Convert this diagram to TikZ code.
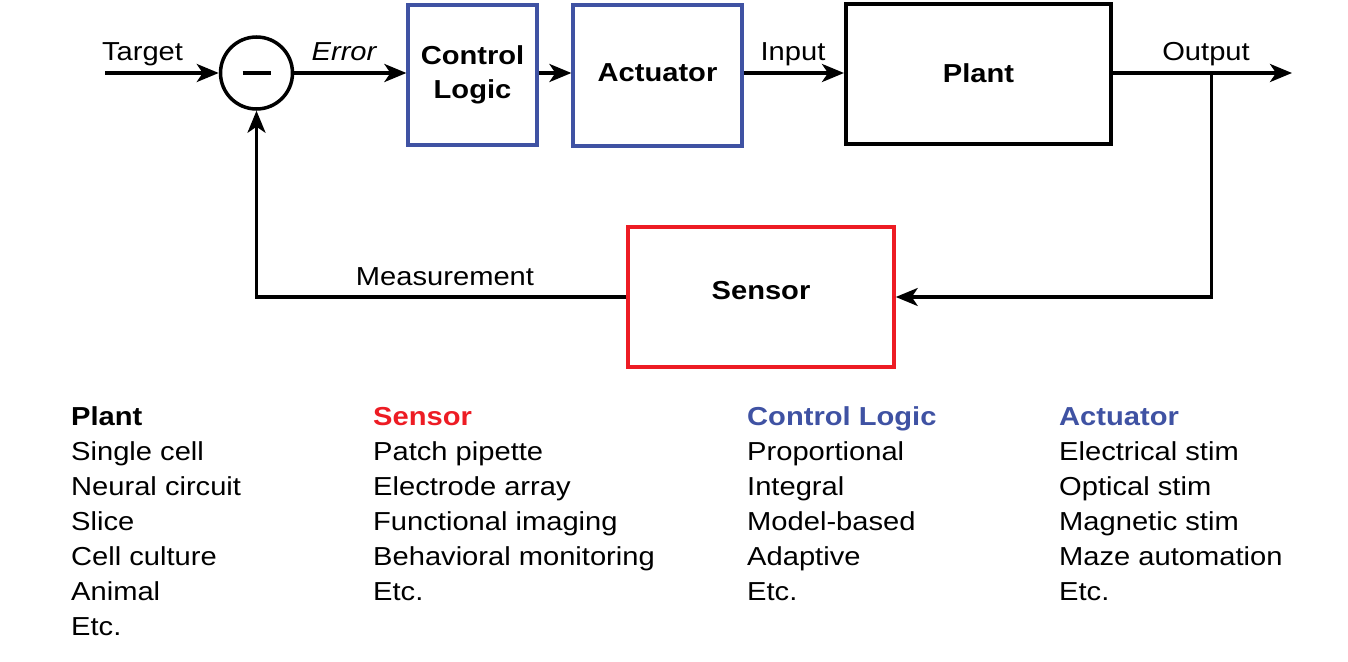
\documentclass[tikz,border=0pt]{standalone}
\usepackage{fontspec}
\setmainfont{Liberation Sans}[FakeStretch=1.12]
\usetikzlibrary{arrows.meta}
\definecolor{cblue}{RGB}{63,82,163}
\definecolor{cred}{RGB}{237,28,36}
\begin{document}
\begin{tikzpicture}[x=1pt,y=-1pt,
  every node/.style={inner sep=0pt, font=\fontsize{26}{35}\selectfont},
  arr/.style={line width=3.5pt, -{Stealth[length=22pt,width=18pt,inset=6pt]}},
  fb/.style={line width=3.2pt, -{Stealth[length=22pt,width=18pt,inset=6pt]}},
  blk/.style={draw, line width=3.2pt, align=center, font=\fontsize{26}{34}\selectfont\bfseries},
  lbl/.style={anchor=base},
  item/.style={anchor=base west},
  head/.style={anchor=base west, font=\fontsize{26}{35}\selectfont\bfseries}]
\useasboundingbox (0,0) rectangle (1348,661);

% blocks
\node[circle, draw, line width=3.5pt, minimum size=72pt] (sum) at (256.5,73) {};
\draw[line width=4pt] ([xshift=-14pt]sum.center) -- ([xshift=14pt]sum.center);
\node[blk, draw=cblue, minimum width=129pt, minimum height=140pt] (cl) at (472.5,75) {Control\\Logic};
\node[blk, draw=cblue, minimum width=169pt, minimum height=141pt, text depth=6pt] (act) at (657.5,75.5) {Actuator};
\node[blk, line width=4pt, minimum width=265pt, minimum height=140pt, text depth=2pt] (plant) at (978.5,74) {Plant};
\node[blk, draw=cred, line width=3.5pt, minimum width=266pt, minimum height=140pt, text depth=14pt] (sen) at (761,297) {Sensor};

% coordinates
\coordinate (tgt) at (105,73);
\coordinate (out) at (1292,73);
\coordinate (tap) at (1211.5,73);

% connectors
\draw[arr] (tgt) -- (sum.west);
\draw[arr] (sum.east) -- (sum.east -| cl.west);
\draw[arr] (sum.east -| cl.east) -- (sum.east -| act.west);
\draw[arr] (sum.east -| act.east) -- (sum.east -| plant.west);
\draw[arr] (sum.east -| plant.east) -- (out);
\draw[fb] (tap) |- (sen.east);
\draw[fb] (sen.west) -| (sum.south);

% labels
\node[lbl] (ltarget) at (142.5,60) {Target};
\node[lbl] (lerror) at (344,60) {\itshape Error};
\node[lbl] (linput) at (793,60) {Input};
\node[lbl] (loutput) at (1206,60) {Output};
\node[lbl] (lmeas) at (445,285) {Measurement};

% lists
\node[head] (hplant) at (71,425) {Plant};
\foreach \t [count=\i from 1] in {Single cell,Neural circuit,Slice,Cell culture,Animal,Etc.}
  \node[item] (plant\i) at (71,{425+35*\i}) {\t};

\node[head, text=cred] (hsen) at (373,425) {Sensor};
\foreach \t [count=\i from 1] in {Patch pipette,Electrode array,Functional imaging,Behavioral monitoring,Etc.}
  \node[item] (sen\i) at (373,{425+35*\i}) {\t};

\node[head, text=cblue] (hcl) at (747,425) {Control Logic};
\foreach \t [count=\i from 1] in {Proportional,Integral,Model-based,Adaptive,Etc.}
  \node[item] (cl\i) at (747,{425+35*\i}) {\t};

\node[head, text=cblue] (hact) at (1059,425) {Actuator};
\foreach \t [count=\i from 1] in {Electrical stim,Optical stim,Magnetic stim,Maze automation,Etc.}
  \node[item] (act\i) at (1059,{425+35*\i}) {\t};
\end{tikzpicture}
\end{document}
